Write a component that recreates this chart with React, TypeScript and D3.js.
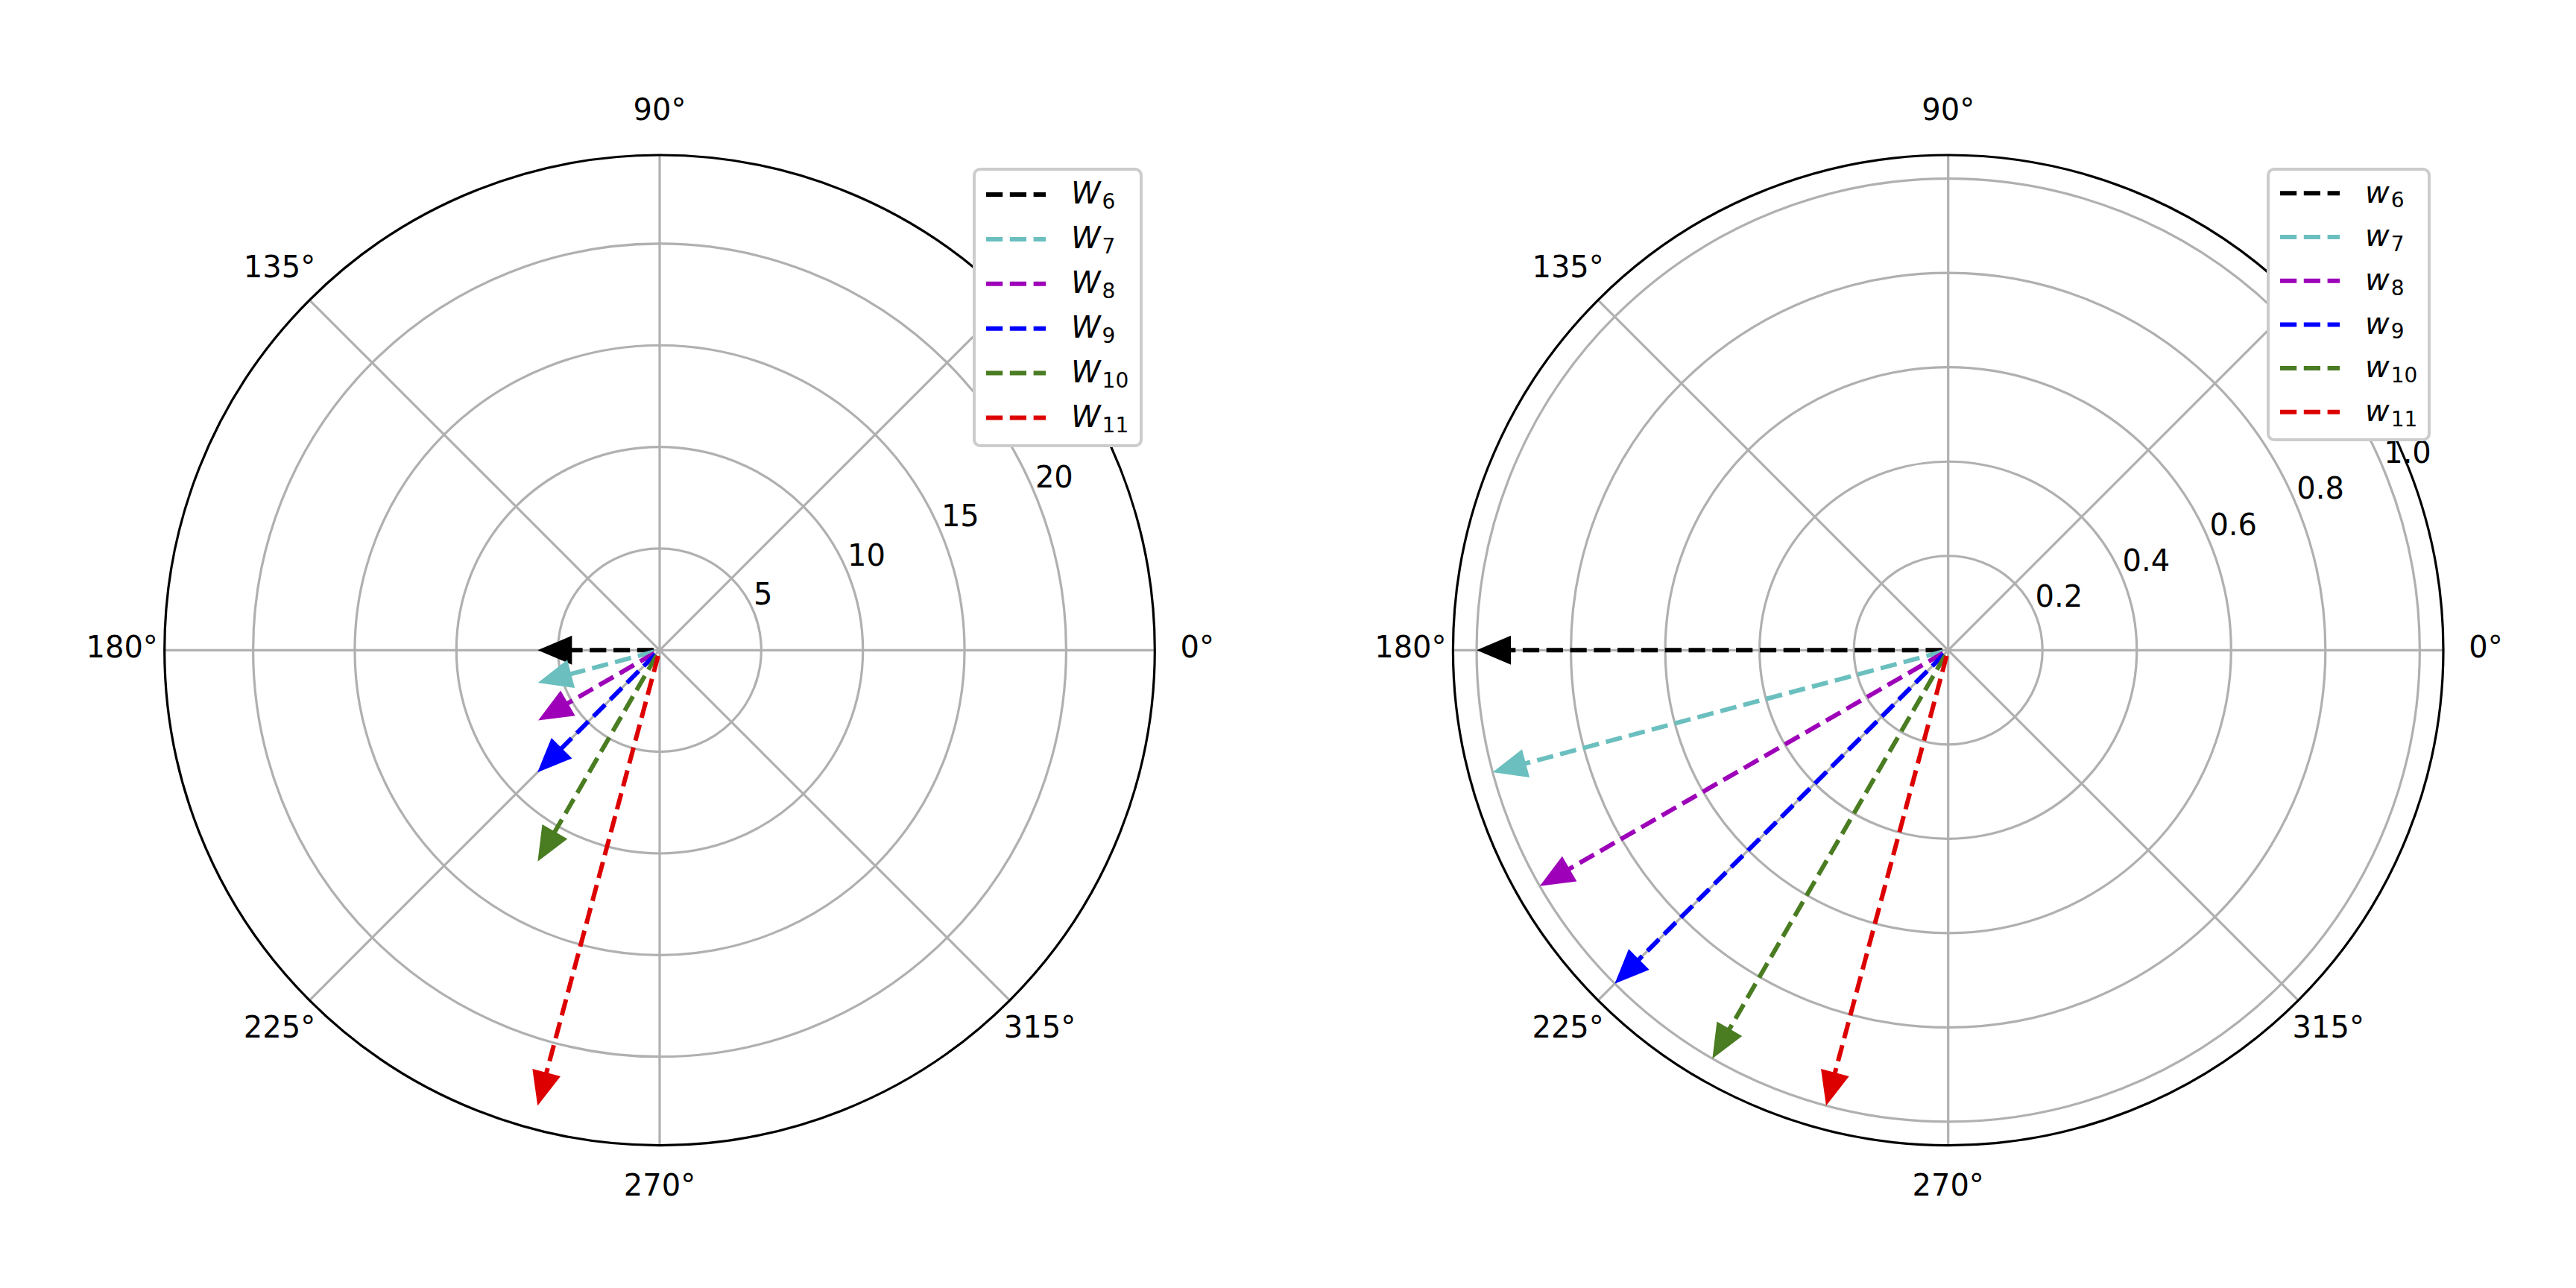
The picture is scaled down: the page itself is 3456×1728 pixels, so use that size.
import React from 'react';
import * as d3 from 'd3';

// ---- data ----
const angleDeg = [180, 195, 210, 225, 240, 255];
const magnitudesLeft = [6.0, 6.2, 6.9, 8.5, 12.0, 23.2];
const magnitudesRight = [1.0, 1.0, 1.0, 1.0, 1.0, 1.0];
const subscripts = ['6', '7', '8', '9', '10', '11'];
const seriesColors = ['#000000', '#6bbfbf', '#9d00b8', '#0000ff', '#4a7c22', '#dd0000'];
const rTicksLeft = [5, 10, 15, 20];
const rTicksRight = [0.2, 0.4, 0.6, 0.8, 1.0];
const thetaTicks = [0, 45, 90, 135, 180, 225, 270, 315];

// ---- layout ----
const WIDTH = 3456;
const HEIGHT = 1728;
const R = 664.3;
const CY = 872.3;
const FONT = '"DejaVu Sans", sans-serif';
const GRID = '#b0b0b0';

type Panel = {
  cx: number;
  mags: number[];
  ticks: number[];
  fmt: (v: number) => string;
  symbol: string;
  legend: { x: number; y: number; w: number; h: number; row0: number; step: number };
};

const panels: Panel[] = [
  {
    cx: 885,
    mags: magnitudesLeft,
    ticks: rTicksLeft,
    fmt: (v) => d3.format('d')(v),
    symbol: 'W',
    legend: { x: 1307, y: 227, w: 224, h: 371, row0: 261, step: 59.9 },
  },
  {
    cx: 2613.7,
    mags: magnitudesRight,
    ticks: rTicksRight,
    fmt: (v) => d3.format('.1f')(v),
    symbol: 'w',
    legend: { x: 3043, y: 227, w: 216, h: 363, row0: 259.3, step: 58.7 },
  },
];

const theta = d3.scaleLinear().domain([0, 360]).range([0, 2 * Math.PI]);

function PolarPanel({ p }: { p: Panel }) {
  const rmax = 1.05 * (d3.max(p.mags) as number);
  const r = d3.scaleLinear().domain([0, rmax]).range([0, R]);
  const pt = (deg: number, rad: number): [number, number] => [
    p.cx + rad * Math.cos(theta(deg)),
    CY - rad * Math.sin(theta(deg)),
  ];
  const headLen = 46;
  const headHalf = 19.5;
  const labelAngle = 22.5;

  return (
    <g>
      {/* radial rings */}
      {p.ticks.map((t, i) => (
        <circle key={'ring' + i} cx={p.cx} cy={CY} r={r(t)} fill="none" stroke={GRID} strokeWidth={3.2} />
      ))}
      {/* theta grid lines */}
      {thetaTicks.map((a, i) => {
        const [x, y] = pt(a, R);
        return <line key={'tg' + i} x1={p.cx} y1={CY} x2={x} y2={y} stroke={GRID} strokeWidth={3.2} />;
      })}
      {/* radial tick labels */}
      {p.ticks.map((t, i) => {
        const [x, y] = pt(labelAngle, r(t));
        return (
          <text key={'rl' + i} x={x} y={y - 9.4} fontFamily={FONT} fontSize={40} fill="#000" textAnchor="start">
            {p.fmt(t)}
          </text>
        );
      })}
      {/* arrows */}
      {p.mags.map((m, i) => {
        const a = angleDeg[i];
        const rad = r(m);
        const [tx, ty] = pt(a, rad);
        const [bx, by] = pt(a, rad - headLen);
        const ux = Math.cos(theta(a));
        const uy = -Math.sin(theta(a));
        const nx = -uy;
        const ny = ux;
        const head = `M${tx},${ty} L${bx + nx * headHalf},${by + ny * headHalf} L${bx - nx * headHalf},${by - ny * headHalf} Z`;
        const [sx, sy] = pt(a, 8);
        return (
          <g key={'arr' + i}>
            <line
              x1={sx}
              y1={sy}
              x2={bx + ux * 2}
              y2={by + uy * 2}
              stroke={seriesColors[i]}
              strokeWidth={6}
              strokeDasharray="22.2 9.6"
              strokeLinecap="butt"
            />
            <path d={head} fill={seriesColors[i]} stroke="none" />
          </g>
        );
      })}
      {/* spine */}
      <circle cx={p.cx} cy={CY} r={R} fill="none" stroke="#000" strokeWidth={3.2} />
      {/* theta labels */}
      {thetaTicks.map((a, i) => {
        const [x, y] = pt(a, R + 57);
        return (
          <text
            key={'tl' + i}
            x={x}
            y={y - 4}
            fontFamily={FONT}
            fontSize={40}
            fill="#000"
            textAnchor="middle"
            dominantBaseline="central"
          >
            {a + '°'}
          </text>
        );
      })}
      {/* legend */}
      <g>
        <rect
          x={p.legend.x}
          y={p.legend.y}
          width={p.legend.w}
          height={p.legend.h}
          rx={8}
          ry={8}
          fill="#ffffff"
          stroke="#cccccc"
          strokeWidth={4}
        />
        {subscripts.map((s, i) => {
          const yy = p.legend.row0 + i * p.legend.step;
          const lx = p.legend.x + 16;
          return (
            <g key={'lg' + i}>
              <line
                x1={lx}
                y1={yy}
                x2={lx + 80}
                y2={yy}
                stroke={seriesColors[i]}
                strokeWidth={6}
                strokeDasharray="22.2 9.6"
              />
              <text x={lx + 114} y={yy + 12.3} fontFamily={FONT} fontSize={40} fill="#000">
                <tspan fontStyle="italic">{p.symbol}</tspan>
                <tspan fontSize={28} dx={2} dy={6.7}>
                  {s}
                </tspan>
              </text>
            </g>
          );
        })}
      </g>
    </g>
  );
}

export default function App() {
  return (
    <svg
      width={WIDTH}
      height={HEIGHT}
      viewBox={`0 0 ${WIDTH} ${HEIGHT}`}
      style={{ position: 'absolute', left: 0, top: 0, background: '#fff' }}
    >
      <rect x={0} y={0} width={WIDTH} height={HEIGHT} fill="#fff" />
      {panels.map((p, i) => (
        <PolarPanel key={i} p={p} />
      ))}
    </svg>
  );
}
